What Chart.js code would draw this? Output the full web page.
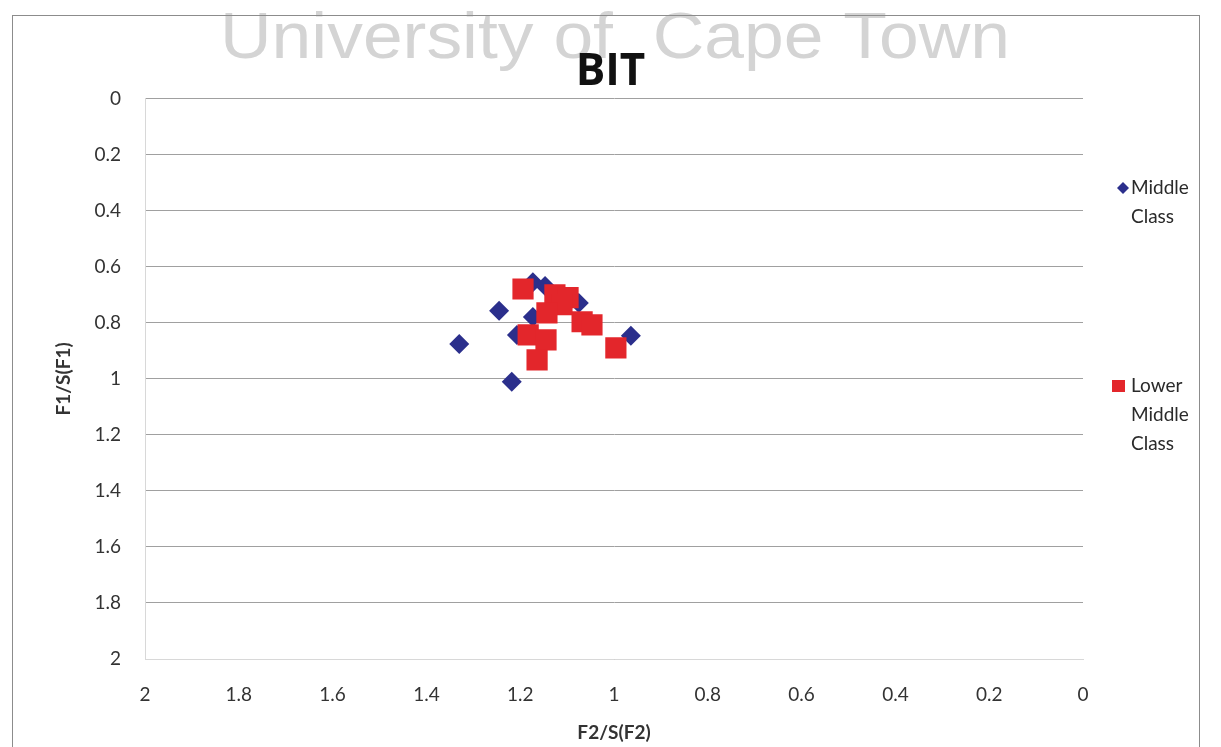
<!DOCTYPE html>
<html>
<head>
<meta charset="utf-8">
<script src="https://cdn.jsdelivr.net/npm/chart.js@4"></script>
<style>
  html, body { margin: 0; padding: 0; background: #fff; }
  #wrap { width: 1221px; height: 747px; position: relative; }
</style>
</head>
<body>
<div id="wrap"><canvas id="myChart" width="1221" height="747"></canvas></div>
<script>
// values
var chartTitle = "BIT";
var watermark = "University of  Cape Town";
var xTitle = "F2/S(F2)";
var yTitle = "F1/S(F1)";
var seriesNames = ["Middle Class", "Lower Middle Class"];

var middleX = [1.33, 1.245, 1.218, 0.964, 1.173, 1.147, 1.075, 1.173, 1.207];
var middleY = [0.875, 0.757, 1.01, 0.846, 0.655, 0.668, 0.729, 0.779, 0.843];

var lowerX = [1.194, 1.126, 1.098, 1.111, 1.143, 1.068, 1.047, 1.183, 1.145, 1.164, 0.996];
var lowerY = [0.679, 0.70, 0.71, 0.735, 0.764, 0.796, 0.807, 0.843, 0.861, 0.932, 0.889];

var axisMin = 0, axisMax = 2, axisStep = 0.2;

function pts(xs, ys) {
    return xs.map(function (x, i) { return { x: x, y: ys[i] }; });
}
function fmt(v) {
    return String(Math.round(v * 10) / 10);
}

var font = "Lato, 'Open Sans', sans-serif";

// watermark, frame and legend drawn around the chart
var decor = {
    id: 'decor',
    beforeDraw: function (chart) {
        var c = chart.ctx;
        c.save();
        c.fillStyle = '#d4d4d4';
        c.font = "64px 'Liberation Sans', sans-serif";
        c.textBaseline = 'alphabetic';
        var w = c.measureText(watermark).width;
        c.translate(220, 58);
        c.scale(790 / w, 1);
        c.fillText(watermark, 0, 0);
        c.restore();
    },
    afterDraw: function (chart) {
        var c = chart.ctx;
        c.save();
        c.strokeStyle = '#8c8c8c';
        c.lineWidth = 1;
        c.strokeRect(12.5, 15.5, 1187, 740);
        // legend
        var items = [
            { lines: ["Middle", "Class"], y: 188, ds: chart.data.datasets[0], shape: 'diamond' },
            { lines: ["Lower", "Middle", "Class"], y: 386, ds: chart.data.datasets[1], shape: 'square' }
        ];
        c.font = "19px " + font;
        c.textBaseline = 'middle';
        c.textAlign = 'left';
        items.forEach(function (it) {
            c.fillStyle = it.ds.backgroundColor;
            if (it.shape === 'diamond') {
                c.beginPath();
                c.moveTo(1123, it.y - 6);
                c.lineTo(1129, it.y);
                c.lineTo(1123, it.y + 6);
                c.lineTo(1117, it.y);
                c.closePath();
                c.fill();
            } else {
                c.fillRect(1112, it.y - 6, 13, 12);
            }
            c.fillStyle = '#2a2a2a';
            it.lines.forEach(function (t, k) {
                c.fillText(t, 1131, it.y + k * 29);
            });
        });
        c.restore();
    }
};

var ctx = document.getElementById("myChart");
var myChart = new Chart(ctx, {
    type: 'scatter',
    data: {
        datasets: [{
            label: seriesNames[0],
            data: pts(middleX, middleY),
            pointStyle: 'rectRot',
            pointRadius: 10,
            pointHoverRadius: 10,
            backgroundColor: '#2b2f8c',
            borderColor: '#2b2f8c',
            borderWidth: 0,
            order: 1
        }, {
            label: seriesNames[1],
            data: pts(lowerX, lowerY),
            pointStyle: 'rect',
            pointRadius: 15,
            pointHoverRadius: 15,
            backgroundColor: '#e3262b',
            borderColor: '#e3262b',
            borderWidth: 0,
            order: 0
        }]
    },
    options: {
        responsive: false,
        animation: false,
        layout: { padding: 0 },
        plugins: {
            legend: { display: false },
            tooltip: { enabled: false },
            title: {
                display: true,
                text: chartTitle,
                color: '#111',
                font: { family: "'Open Sans', sans-serif", size: 44, weight: 'bold' },
                padding: { top: 46, bottom: 0 }
            }
        },
        scales: {
            x: {
                type: 'linear',
                reverse: true,
                min: axisMin,
                max: axisMax,
                afterFit: function (s) { s.height = 88; },
                ticks: { stepSize: axisStep, padding: 24, color: '#333', callback: fmt,
                         font: { family: font, size: 19 } },
                grid: { display: false, drawTicks: false },
                border: { display: true, color: '#d8d8d8' },
                title: { display: true, text: xTitle, color: '#333', padding: { top: 0, bottom: 3 },
                         font: { family: font, size: 19, weight: 'bold' } }
            },
            y: {
                type: 'linear',
                reverse: true,
                min: axisMin,
                max: axisMax,
                afterFit: function (s) { s.width = 145; },
                ticks: { stepSize: axisStep, padding: 24, color: '#333', callback: fmt,
                         font: { family: font, size: 19 } },
                grid: { color: '#a0a0a0', lineWidth: 1, drawTicks: false },
                border: { display: true, color: '#d8d8d8' },
                title: { display: true, text: yTitle, color: '#333', padding: { top: 52, bottom: 0 },
                         font: { family: font, size: 19, weight: 'bold' } }
            },
            // empty right-hand strip that leaves room for the legend
            side: {
                type: 'linear',
                position: 'right',
                display: true,
                afterFit: function (s) { s.width = 138; },
                ticks: { display: false },
                grid: { display: false, drawTicks: false },
                border: { display: false }
            }
        }
    },
    plugins: [decor]
});
</script>
</body>
</html>
